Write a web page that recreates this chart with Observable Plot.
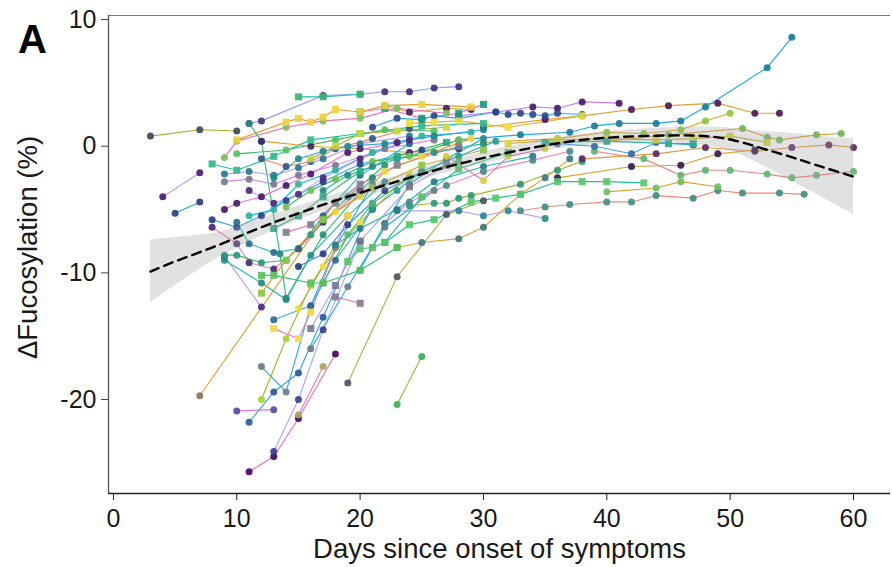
<!DOCTYPE html>
<html>
<head>
<meta charset="utf-8">
<script src="https://cdn.jsdelivr.net/npm/d3@7"></script>
<script src="https://cdn.jsdelivr.net/npm/@observablehq/plot@0.6"></script>
<style>
  html, body { margin: 0; padding: 0; background: #fff; }
  #chart { width: 892px; height: 567px; }
</style>
</head>
<body>
<div id="chart"></div>
<script>
// ---- data: [day since onset, delta fucosylation %] ----
const trajectories = [
  [[3,0.8],[7,1.3],[10,1.2]],
  [[4,-4.0],[7,-2.1]],
  [[5,-5.3],[7,-4.4]],
  [[7,-19.7],[18,-4.4]],
  [[10,-20.9],[13,-20.8]],
  [[11,-21.8],[13,-19.4],[15,-17.9],[17,-13.5],[21,-4.5]],
  [[12,-17.4],[14,-19.4],[16,-12.6],[18,-8.0],[21,-3.0]],
  [[12,-20.0],[14,-15.2],[16,-11.0],[18,-7.8]],
  [[11,-25.7],[13,-24.5],[15,-21.5],[18,-16.4]],
  [[13,-24.1],[15,-20.0],[17,-14.5],[20,-7.5]],
  [[15,-21.2],[17,-17.4]],
  [[19,-18.7],[23,-10.3],[27,-5.4],[30,-4.3]],
  [[23,-20.4],[25,-16.6]],
  [[18,-11.9],[20,-12.4]],
  [[9,-8.7],[12,-12.7]],
  [[13,-14.4],[15,-15.2],[16,-13.1],[19,-5.5]],
  [[13,-13.7],[16,-12.6],[18,-9.0],[21,-5.0]],
  [[22,-7.6],[24,-6.2],[26,-5.8],[29,-4.4],[31,-4.1],[33,-3.8],[36,-2.8],[38,-2.8],[40,-2.8],[43,-2.9]],
  [[24,-4.7],[26,-4.5],[27,-4.5],[28,-4.1],[29,-3.9],[33,-3.0],[36,-1.9],[38,-1.2]],
  [[23,-5.1],[28,-5.1],[30,-5.5],[32,-5.1],[35,-5.7]],
  [[23,-8.0],[25,-7.6],[28,-7.3],[30,-6.4],[33,-3.8],[35,-2.5],[37,-1.0]],
  [[33,-5.1],[35,-4.8],[37,-4.6],[40,-4.4],[42,-4.4],[44,-3.9],[47,-4.1],[49,-3.5],[51,-3.7],[54,-3.7],[56,-3.8]],
  [[40,-3.6],[44,-3.3],[46,-2.8],[49,-3.2]],
  [[39,-0.4],[43,-1.0],[46,-2.3],[48,-1.9],[50,-1.9],[53,-2.2],[55,-2.5],[57,-2.3],[60,-2.0]],
  [[28,2.4],[31,2.7],[34,3.1],[36,3.0],[38,3.5],[41,3.4]],
  [[30,1.5],[35,2.1],[38,2.4],[42,2.9],[45,3.2],[49,3.4],[52,2.6],[54,2.6]],
  [[28,0.5],[33,0.9],[37,1.1],[39,1.6],[41,1.8],[44,1.8],[46,2.0],[48,3.1],[53,6.2],[55,8.6]],
  [[30,0.3],[36,0.6],[40,1.1],[43,1.0],[46,1.3],[48,2.0],[50,2.6]],
  [[40,0.4],[45,0.9],[51,1.4],[53,0.7],[54,0.5],[57,0.9],[59,1.0]],
  [[38,-1.0],[44,-0.6],[48,-0.1],[52,-0.4],[55,-0.1],[58,0.1],[60,-0.1]],
  [[36,-2.5],[42,-1.6],[46,-1.5],[49,-0.6],[52,-0.3]],
  [[32,0.2],[36,0.5],[40,0.6],[44,0.5],[47,0.6],[50,0.8],[53,0.3]],
  [[35,0.3],[40,0.4],[45,0.2],[47,0.2]],
  [[36,0.2],[39,0.0],[42,-0.6],[44,0.3],[47,0.1]],
  [[20,2.7],[22,3.0],[25,2.2],[28,2.6],[30,3.3]],
  [[22,3.2],[24,2.7],[27,3.0],[29,2.9]],
  [[21,1.5],[23,2.2],[25,2.1],[26,2.4],[28,2.2],[31,2.7],[32,2.5],[33,2.6],[34,2.5],[35,2.4],[36,2.6],[38,2.5]],
  [[24,1.8],[26,1.9],[28,2.0],[32,1.5],[38,2.4]],
  [[11,1.8],[12,2.0],[17,4.0],[20,4.1],[22,4.3],[24,4.3],[26,4.6],[28,4.7]],
  [[15,3.9],[17,3.9],[20,4.1]],
  [[10,0.5],[14,1.9],[15,2.2],[16,1.9],[17,2.3],[18,2.9],[20,2.7],[22,3.2],[25,3.3],[29,3.1]],
  [[9,-0.9],[10,0.4],[14,1.5],[17,2.0],[20,2.2],[23,3.0],[27,2.6]],
  [[11,1.8],[12,0.4],[13.5,-8.5],[14,-12.0],[17,-7.0],[21,-2.5]],
  [[8,-1.4],[10,-1.9],[13,-0.8],[16,0.5],[20,1.0],[25,1.6],[30,1.8]],
  [[9,-2.2],[11,-2.0],[13,-2.3],[15,-1.7],[17,-1.0],[20,0.2],[24,0.8]],
  [[9,-2.8],[11,-2.6],[13,-3.0],[15,-2.3],[18,-1.5],[22,-0.2],[26,0.5]],
  [[10,-0.6],[14,-0.3],[18,0.5],[22,1.3],[26,1.2]],
  [[12,0.4],[16,0.0],[20,-0.2],[24,-0.5],[28,-0.2]],
  [[9,-5.0],[10,-4.5],[12,-4.0],[14,-3.1],[16,-2.2],[19,-0.5],[23,0.3]],
  [[8,-5.8],[10,-6.4],[12,-5.5],[14,-4.3],[17,-2.8],[20,-1.4],[25,-0.3]],
  [[8,-6.4],[10,-7.7],[11,-9.2],[13,-9.7],[15,-8.1],[17,-6.0],[20,-3.5]],
  [[9,-8.6],[10,-8.6],[12,-9.2],[14,-9.0],[16,-7.0],[19,-4.0],[22,-1.5]],
  [[9,-9.0],[12,-10.8],[14,-12.1],[16,-8.6],[19,-5.5],[22,-2.8]],
  [[10,-6.0],[11,-7.7],[13,-8.4],[15,-8.1],[17,-5.5],[20,-2.3],[24,0.2]],
  [[11,-5.5],[13,-5.0],[15,-3.0],[18,-1.9],[21,-0.5],[25,0.8],[29,1.1]],
  [[12,-10.2],[13,-10.2],[16,-10.8],[17,-10.8],[20,-9.8],[23,-8.0]],
  [[12,-11.6],[14,-9.0],[17,-5.8],[21,-3.3],[25,-1.5],[30,-0.3]],
  [[13,-6.5],[15,-5.5],[17,-4.0],[20,-2.0],[23,-0.8],[27,0.3]],
  [[11,-3.5],[13,-4.5],[15,-3.8],[17,-2.5],[20,-1.0],[24,0.5]],
  [[12,-1.0],[14,-1.6],[16,-1.2],[18,-0.2],[21,0.6],[24,1.4]],
  [[13,-2.5],[15,-1.0],[17,-0.4],[19,0.0],[22,0.2],[26,0.8],[30,1.3]],
  [[14,-6.8],[16,-6.2],[18,-4.5],[20,-3.0],[23,-1.5],[28,0.0]],
  [[14,-4.8],[16,-3.5],[18,-2.6],[21,-1.2],[24,-0.8],[28,0.5]],
  [[15,-9.5],[17,-8.5],[19,-6.2],[22,-3.5],[25,-2.0]],
  [[16,-1.0],[18,0.0],[20,1.0],[23,1.2],[27,1.5]],
  [[17,-3.5],[19,-2.3],[21,-1.6],[23,-1.0],[26,-0.5],[30,0.2]],
  [[18,-5.2],[20,-4.0],[22,-2.0],[25,-0.8],[29,0.6]],
  [[19,-9.1],[20,-8.1],[21,-8.0],[22,-7.6],[25,-4.0],[28,-1.8],[32,-0.5]],
  [[20,-9.8],[22,-6.1],[24,-3.0],[27,-1.0],[30,0.6]],
  [[21,-4.9],[23,-3.5],[25,-2.0],[28,-0.8],[31,0.4]],
  [[16,-14.4],[18,-11.0],[20,-7.5],[24,-3.2],[27,-1.5]],
  [[15,-12.8],[17,-9.5],[20,-6.0],[24,-2.2]],
  [[16,-16.0],[19,-11.1],[22,-6.4],[26,-3.5]],
  [[17,-10.8],[19,-7.0],[21,-4.5],[24,-2.5],[28,-1.2]],
  [[18,-7.8],[20,-6.5],[23,-5.0],[26,-2.8],[30,-1.6],[34,-0.8]],
  [[22,-6.1],[24,-4.4],[27,-3.1],[30,-2.0],[34,-1.1],[37,-0.4]],
  [[27,-0.8],[30,-2.7],[32,-0.8],[35,-0.2]]
];

// per-trajectory line colour, point colour and point shape (c = circle, s = square)
const lineColors = [
  "#a3b22a","#c98ee8","#1cb0b8","#e0a030","#ee6fc8","#2ea8e0","#35a8e6","#b0b030","#f06ec0","#a9a6f0",
  "#f07bb0","#b8b04a","#8cc040","#f07aa0","#d98ee8","#f07ab8","#2eb0e8","#1fbfa0","#a8b030","#c0a0f0",
  "#e0a030","#f08a70","#e0a030","#f08080","#c080f0","#e0a030","#1ea8e0","#e0a830","#e0a030","#e09a40",
  "#e0a030","#c8b040","#20c0a8","#40a0f0","#f070c0","#e0a030","#30a8f0","#e0b040","#8aa0f8","#20c0a0",
  "#e0a030","#f070b8","#3cb878","#20c0b0","#b8a0f0","#d888e8","#40b860","#e0a030","#f070c0","#30a8e8",
  "#f080c8","#3cb860","#20b8a0","#20c0c0","#00b8e0","#30c070","#e0a030","#40b868","#c0a0f0","#f08878",
  "#30a0f0","#f070b8","#40b860","#3098e0","#a8b030","#20b8b0","#e0a030","#30c080","#20b8b8","#20b0e0",
  "#c0a0f0","#b8b040","#30a8e8","#40c060","#20b8a8","#f080c0","#f070c8"
];
const pointColors = [
  "#3d4a5c","#4b1d72","#2c3f85","#857a5e","#5e4a9a","#2d5a9a","#6a7d90","#a8d040","#4a0a5c","#3e3f92",
  "#a8a860","#4d5560","#3fb050","#8a7a90","#4b2a7a","#f2d84a","#2e6a92","#58c868","#2a9a70","#2a8a8e",
  "#3a7a7e","#3f8f86","#6ec060","#5cb870","#4a1a6a","#4a1a5a","#1f7a9a","#8cc840","#6ab858","#5a2a5e",
  "#3a1a50","#d8d838","#2aa890","#3a6aa0","#1aa080","#4a2060","#2e4a8e","#e8e040","#46307a","#3cba78",
  "#f0d040","#78c060","#2a8a7a","#3ab888","#2a7a8e","#7a7890","#58c060","#3a2a6a","#4a1a6a","#2a3f88",
  "#4a2a70","#2a9a80","#2a8a86","#2a6e8e","#36b0a0","#5cc060","#8ac848","#2aa888","#4a2a78","#2a5a8a",
  "#1e8a8c","#808090","#70c050","#303a80","#c8d840","#2a8a8a","#e8d840","#58c068","#2a8a8a","#2a9a8a",
  "#7a7a90","#e8e040","#6a7a8a","#50b870","#2a7a8a","#4a8a8a","#d8d040"
];
const pointShapes = [
  "c","c","c","c","c","c","c","c","c","c",
  "c","c","c","s","c","s","c","s","c","c",
  "c","c","c","c","c","c","c","c","c","c",
  "c","s","s","c","s","c","c","s","c","s",
  "s","c","c","s","c","c","c","c","c","c",
  "c","c","c","c","c","s","s","s","c","c",
  "c","s","c","c","s","c","c","s","c","c",
  "s","c","c","c","c","c","c"
];

// loess fit with its confidence band
const smoothDays = [3,5,8,10,12,15,18,21.6,25,28,32,36.5,40.5,45,49,52,54.6,57,60];
const smoothFit  = [-9.9,-9.1,-8.0,-7.2,-6.4,-5.3,-4.3,-3.2,-2.2,-1.4,-0.5,0.3,0.7,0.85,0.7,0.0,-0.75,-1.5,-2.4];
const smoothHalfWidth = [2.5,1.9,1.1,0.85,0.7,0.55,0.5,0.45,0.45,0.45,0.45,0.45,0.5,0.6,0.8,1.2,1.8,2.3,3.0];

const xTicks = [0,10,20,30,40,50,60];
const yTicks = [-20,-10,0,10];
const xDomain = [-0.4, 63.0];
const yDomain = [-27.42, 10.32];

// ---- build tables ----
const points = [];
trajectories.forEach((t, i) => {
  t.forEach(([d, v]) => points.push({id: i, day: d, value: v, lc: lineColors[i], pc: pointColors[i], shape: pointShapes[i]}));
});
const band = smoothDays.map((d, i) => ({day: d, fit: smoothFit[i], lo: smoothFit[i] - smoothHalfWidth[i], hi: smoothFit[i] + smoothHalfWidth[i]}));

const font = "'Liberation Sans', Arial, Helvetica, sans-serif";
const plainNumber = d => String(d);

const chart = Plot.plot({
  width: 892,
  height: 567,
  marginLeft: 108,
  marginRight: 2,
  marginTop: 15,
  marginBottom: 74,
  style: {fontFamily: font, background: "#fff", overflow: "visible"},
  x: {domain: xDomain, axis: null},
  y: {domain: yDomain, axis: null},
  color: {type: "identity"},
  marks: [
    Plot.line(points, {x: "day", y: "value", z: "id", stroke: "lc", strokeWidth: 1.15}),
    Plot.dot(points.filter(p => p.shape === "c"), {x: "day", y: "value", fill: "pc", r: 3.5, stroke: "none", fillOpacity: 0.92}),
    Plot.dot(points.filter(p => p.shape === "s"), {x: "day", y: "value", fill: "pc", r: 4.0, symbol: "square", stroke: "none", fillOpacity: 0.92}),
    Plot.areaY(band, {x: "day", y1: "lo", y2: "hi", fill: "#9a9a9a", fillOpacity: 0.3, curve: "natural"}),
    Plot.line(band, {x: "day", y: "fit", stroke: "#000", strokeWidth: 2.4, strokeDasharray: "9,6", curve: "natural"}),
    Plot.ruleY([yDomain[1]], {stroke: "#7a7a7a", strokeWidth: 1.2}),
    Plot.ruleX([xDomain[0]], {stroke: "#555", strokeWidth: 1.3}),
    Plot.ruleY([yDomain[0]], {stroke: "#222", strokeWidth: 1.4}),
    Plot.axisX({ticks: xTicks, tickFormat: plainNumber, tickSize: 7, tickPadding: 9, fontSize: 25, label: null, stroke: "#222", fill: "#1a1a1a"}),
    Plot.axisY({ticks: yTicks, tickFormat: plainNumber, tickSize: 7, tickPadding: 5, fontSize: 25, label: null, stroke: "#444", fill: "#1a1a1a"}),
    Plot.text(["Days since onset of symptoms"], {frameAnchor: "bottom", dy: 56, fontSize: 27.5, textAnchor: "middle", lineAnchor: "middle", fill: "#1a1a1a"}),
    Plot.text(["ΔFucosylation (%)"], {frameAnchor: "left", dx: -80, dy: -7, rotate: -90, fontSize: 27.5, textAnchor: "middle", lineAnchor: "middle", fill: "#1a1a1a"}),
    Plot.text(["A"], {frameAnchor: "top-left", dx: -76, dy: 25, fontSize: 40, fontWeight: "bold", textAnchor: "middle", lineAnchor: "middle", fill: "#000"})
  ]
});
document.getElementById("chart").appendChild(chart);
</script>
</body>
</html>
